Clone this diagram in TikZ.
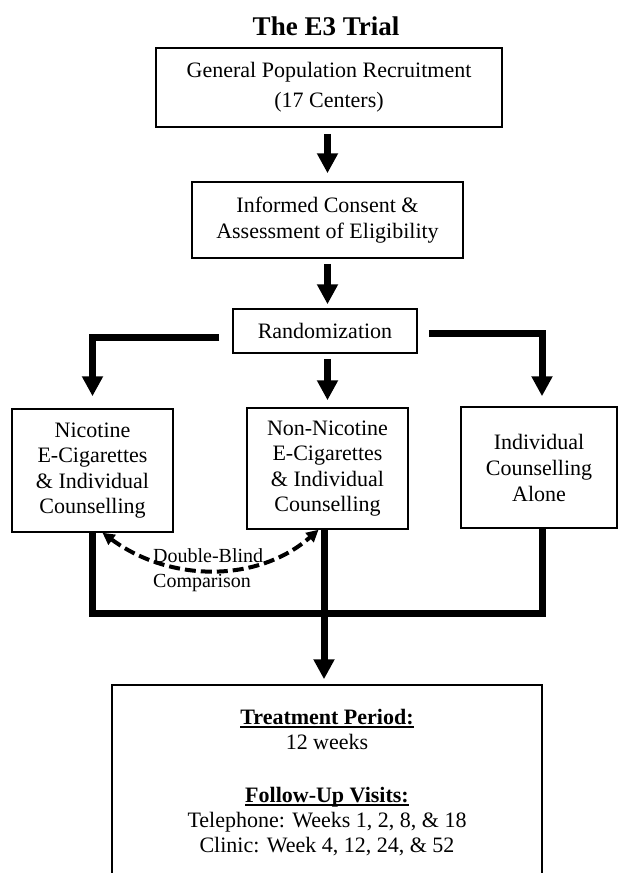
\documentclass[tikz,border=0pt]{standalone}
\usepackage{fontspec}
\setmainfont{Liberation Serif}
\usepackage{tikz}
\usetikzlibrary{arrows.meta}
\tikzset{stage/.style={draw, line width=1.5pt, align=center, inner sep=0pt, font=\fontsize{22}{26}\selectfont}}
\tikzset{flow/.style={line width=7pt, -{Triangle[length=20pt, width=20pt]}}}
\tikzset{merge/.style={line width=7pt}}
\tikzset{blind/.style={line width=4pt, dash pattern=on 11pt off 5pt, {Triangle[length=12pt, width=12pt]}-{Triangle[length=12pt, width=12pt]}}}
\newcommand{\ulhead}[1]{\leavevmode\setbox0\hbox{\bfseries #1}\rlap{\vrule height -2pt depth 4pt width \wd0}\box0}

\begin{document}
\begin{tikzpicture}[x=1pt, y=-1pt]
    \useasboundingbox (0,0) rectangle (619,873);
    \node[font=\fontsize{27}{30}\selectfont\bfseries, anchor=base] (title) at (326,35) {The E3 Trial};
    \node[stage, minimum width=346pt, minimum height=79pt, font=\fontsize{22}{30}\selectfont] (recruit) at (329,87.5) {General Population Recruitment\\(17 Centers)};
    \node[stage, minimum width=271pt, minimum height=76pt] (consent) at (327.5,220) {Informed Consent \&\\Assessment of Eligibility};
    \node[stage, minimum width=184pt, minimum height=44pt] (rand) at (325,331) {Randomization};
    \node[stage, minimum width=161pt, minimum height=123pt, font=\fontsize{22}{25.5}\selectfont] (nic) at (92.5,470.5) {Nicotine\\E-Cigarettes\\\& Individual\\Counselling};
    \node[stage, minimum width=161pt, minimum height=121pt, font=\fontsize{22}{25.5}\selectfont] (non) at (327.5,468.5) {Non-Nicotine\\E-Cigarettes\\\& Individual\\Counselling};
    \node[stage, minimum width=156pt, minimum height=121pt] (ind) at (539,467.5) {Individual\\Counselling\\Alone};
    \node[stage, minimum width=430pt, minimum height=210pt] (period) at (327,790) {};
    \node[align=center, inner sep=0pt, anchor=north, font=\fontsize{22}{25}\selectfont] (periodtext) at (327,709)
        {\ulhead{Treatment Period:}\\12 weeks\\[28pt]\ulhead{Follow-Up Visits:}\\Telephone: Weeks 1, 2, 8, \& 18\\Clinic: Week 4, 12, 24, \& 52};
    \draw[flow, shorten <=6pt, shorten >=8pt] (consent.north |- recruit.south) -- (consent.north);
    \draw[flow, shorten <=5pt, shorten >=4pt] (consent.south) -- (consent.south |- rand.north);
    \draw[flow, shorten >=12pt] ([xshift=-13pt, yshift=-6pt]rand.west) -| (nic.north);
    \draw[flow, shorten <=5pt, shorten >=7pt] (non.north |- rand.south) -- (non.north);
    \draw[flow, shorten >=10pt] ([xshift=11pt, yshift=-2pt]rand.east) -| ([xshift=3pt]ind.north);
    \coordinate (join) at (324,613);
    \draw[merge] (nic.south) |- (join) -| ([xshift=3pt]ind.south);
    \draw[flow, shorten >=5pt] ([xshift=-3.5pt]non.south) -- ([xshift=-3.5pt]non.south |- period.north);
    \draw[blind] ([xshift=10pt]nic.south) .. controls +(68,50) and +(-60,53) .. ([xshift=-9pt]non.south);
    \node[align=left, inner sep=0pt, anchor=north west, font=\fontsize{20}{25}\selectfont] (blindtext) at (153,548) {Double-Blind\\Comparison};
\end{tikzpicture}
\end{document}
